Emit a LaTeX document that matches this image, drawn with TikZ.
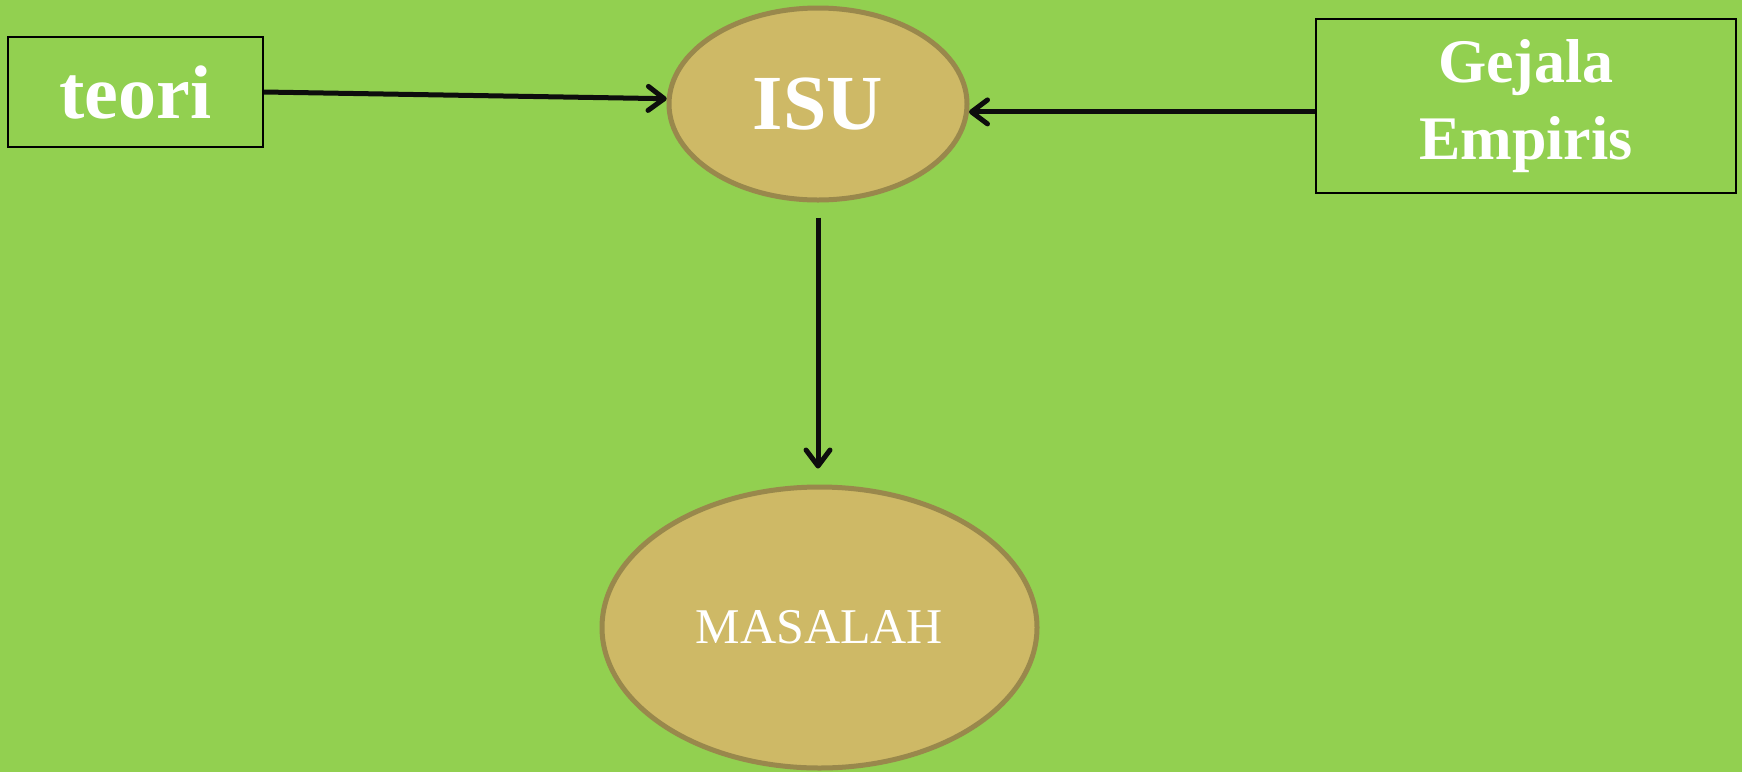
\documentclass[tikz,border=0pt]{standalone}
\usepackage{fontspec}
\setmainfont{Liberation Serif}
\usetikzlibrary{shapes.geometric,arrows.meta}
\definecolor{bg}{HTML}{92D050}
\definecolor{tan}{HTML}{CEB966}
\definecolor{tanedge}{HTML}{99884C}
\tikzset{
  box/.style={draw=black, line width=1.6pt, fill=bg, rectangle, inner sep=0pt, text=white, align=center},
  oval/.style={ellipse, draw=tanedge, line width=5pt, fill=tan, inner sep=0pt, text=white},
  conn/.style={draw=black!95, line width=5pt, -{Straight Barb[length=16pt,width=24pt,line width=5pt,round]}}
}
\begin{document}
\begin{tikzpicture}[x=1pt,y=-1pt]
\fill[bg] (0,0) rectangle (1742,772);
\useasboundingbox (0,0) rectangle (1742,772);
\node[box, minimum width=255pt, minimum height=110pt, font={\fontsize{76}{90}\selectfont\bfseries}] (teori) at (135.5,92) {teori};
\node[box, minimum width=420pt, minimum height=174pt, font={\fontsize{62}{77}\selectfont\bfseries}] (gejala) at (1526,106) {Gejala\\Empiris};
\node[oval, minimum width=298pt, minimum height=192pt, font={\fontsize{78}{90}\selectfont\bfseries}] (isu) at (818,104) {ISU};
\node[oval, minimum width=435pt, minimum height=281pt, font={\fontsize{50}{60}\selectfont}] (masalah) at (819.5,627.5) {MASALAH};
\draw[conn] (teori.east) -- (isu.178);
\draw[conn] (isu.357 -| gejala.west) -- (isu.357);
\draw[conn, shorten <=15pt, shorten >=16pt] (isu.south) -- (isu.south |- masalah.north);
\end{tikzpicture}
\end{document}
